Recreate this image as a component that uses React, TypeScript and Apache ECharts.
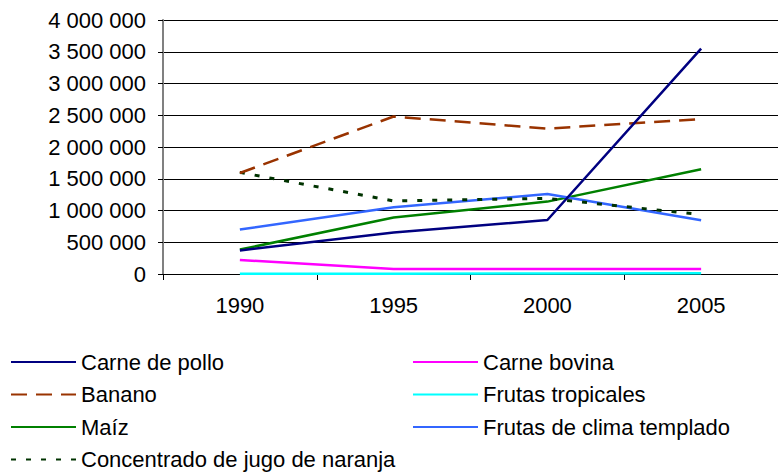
import React, { useEffect, useRef } from "react";
import * as echarts from "echarts";

const years = ["1990", "1995", "2000", "2005"];
const carnePollo = [370000, 655000, 850000, 3550000];
const carneBovina = [220000, 80000, 80000, 80000];
const banano = [1590000, 2480000, 2290000, 2440000];
const frutasTropicales = [5000, 5000, 8000, 12000];
const maiz = [385000, 890000, 1140000, 1650000];
const frutasClima = [700000, 1050000, 1260000, 845000];
const jugoNaranja = [1600000, 1150000, 1190000, 935000];

const yTicks = { min: 0, max: 4000000, interval: 500000 };

const FONT = "Liberation Sans, Arial, sans-serif";

function fmt(v: number): string {
  return String(Math.round(v)).replace(/\B(?=(\d{3})+(?!\d))/g, " ");
}

export default function App() {
  const ref = useRef<HTMLDivElement>(null);
  useEffect(() => {
    if (!ref.current) return;
    const chart = echarts.init(ref.current, null, { renderer: "svg" });
    const mk = (name: string, data: number[], color: string, type: any, width = 2.5) => ({
      name,
      type: "line",
      data,
      symbol: "none",
      showSymbol: false,
      lineStyle: { color, width, type },
      itemStyle: { color },
      z: 3,
    });
    const legendBase = {
      top: 351,
      orient: "vertical",
      itemWidth: 65,
      itemHeight: 14,
      itemGap: 10.5,
      itemStyle: { opacity: 0 },
      textStyle: { fontSize: 22, lineHeight: 22, color: "#000", fontFamily: FONT },
      padding: 0,
      selectedMode: false,
    };
    chart.setOption({
      animation: false,
      backgroundColor: "#ffffff",
      textStyle: { fontFamily: FONT },
      grid: { left: 163, top: 20, width: 624, height: 254 },
      xAxis: {
        type: "category",
        data: years,
        boundaryGap: true,
        axisLine: { lineStyle: { color: "#000", width: 1 } },
        axisTick: { show: true, length: 6, lineStyle: { color: "#000" } },
        axisLabel: { color: "#000", fontSize: 22, fontFamily: FONT, margin: 20 },
      },
      yAxis: {
        type: "value",
        min: yTicks.min,
        max: yTicks.max,
        interval: yTicks.interval,
        axisLine: { show: true, lineStyle: { color: "#808080", width: 2 } },
        axisTick: { show: true, length: 5, lineStyle: { color: "#000" } },
        splitLine: { show: true, lineStyle: { color: "#000", width: 1 } },
        axisLabel: {
          color: "#000",
          fontSize: 22,
          fontFamily: FONT,
          margin: 17,
          formatter: (v: number) => fmt(v),
        },
      },
      legend: [
        {
          ...legendBase,
          left: 10,
          data: ["Carne de pollo", "Banano", "Maíz", "Concentrado de jugo de naranja"],
        },
        {
          ...legendBase,
          left: 412,
          data: ["Carne bovina", "Frutas tropicales", "Frutas de clima templado"],
        },
      ],
      series: [
        mk("Frutas tropicales", frutasTropicales, "#00FFFF", "solid"),
        mk("Carne bovina", carneBovina, "#FF00FF", "solid"),
        mk("Maíz", maiz, "#008000", "solid"),
        mk("Frutas de clima templado", frutasClima, "#3366FF", "solid"),
        mk("Concentrado de jugo de naranja", jugoNaranja, "#003300", [5, 10], 3),
        mk("Banano", banano, "#993300", [16, 9], 2.5),
        mk("Carne de pollo", carnePollo, "#000080", "solid"),
      ],
    });
    return () => chart.dispose();
  }, []);
  return (
    <div
      ref={ref}
      style={{ position: "fixed", left: 0, top: 0, width: 778, height: 472, background: "#fff" }}
    />
  );
}
